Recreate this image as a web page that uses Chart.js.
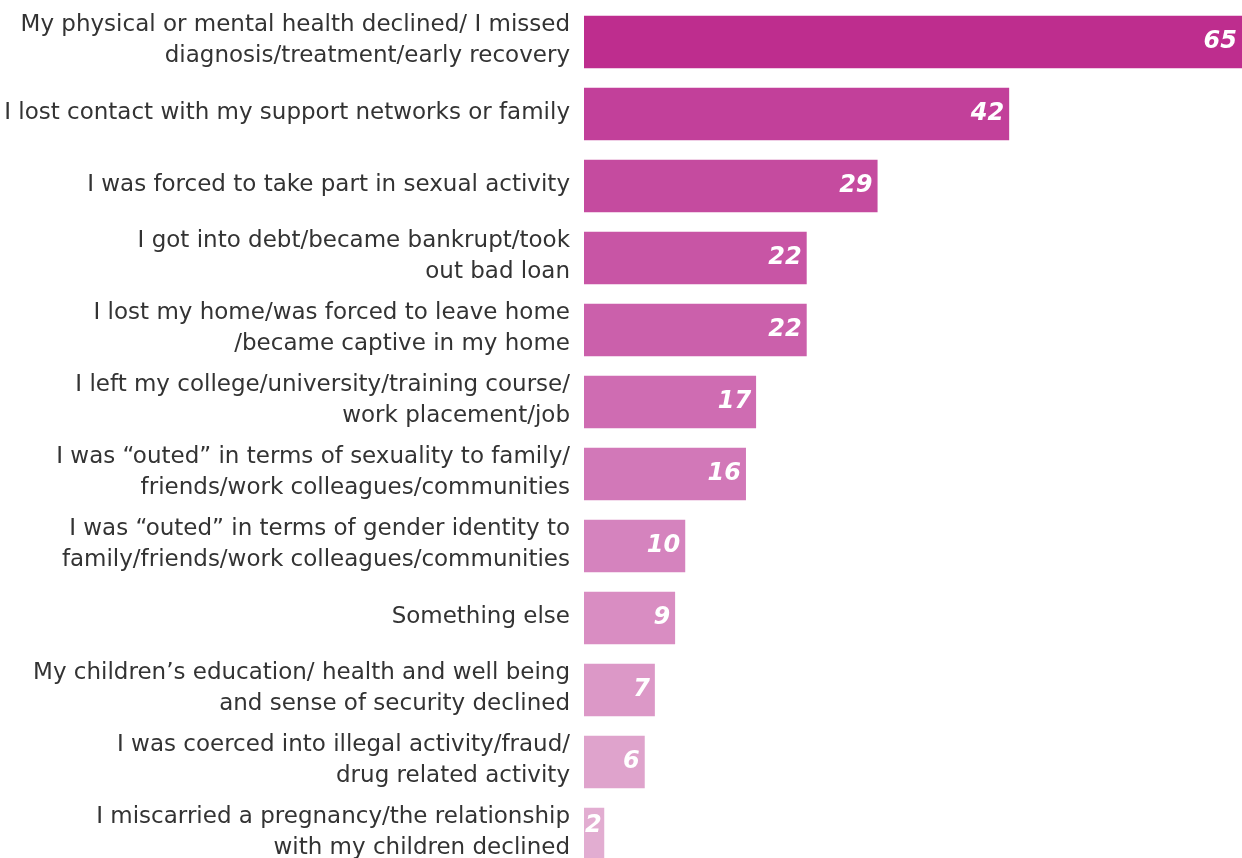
<!DOCTYPE html>
<html>
<head>
<meta charset="utf-8">
<script src="https://cdn.jsdelivr.net/npm/chart.js@4/dist/chart.umd.min.js"></script>
<style>
  html, body { margin: 0; padding: 0; background: #fff; overflow: hidden; }
  #wrap { position: relative; width: 1242px; height: 870px; }
</style>
</head>
<body>
<div id="wrap"><canvas id="chart"></canvas></div>
<script>
// Impact categories (multi-line labels) and percentages
const categories = [
    ['My physical or mental health declined/ I missed', 'diagnosis/treatment/early recovery'],
    ['I lost contact with my support networks or family'],
    ['I was forced to take part in sexual activity'],
    ['I got into debt/became bankrupt/took', 'out bad loan'],
    ['I lost my home/was forced to leave home', '/became captive in my home'],
    ['I left my college/university/training course/', 'work placement/job'],
    ['I was \u201couted\u201d in terms of sexuality to family/', 'friends/work colleagues/communities'],
    ['I was \u201couted\u201d in terms of gender identity to', 'family/friends/work colleagues/communities'],
    ['Something else'],
    ['My children\u2019s education/ health and well being', 'and sense of security declined'],
    ['I was coerced into illegal activity/fraud/', 'drug related activity'],
    ['I miscarried a pregnancy/the relationship', 'with my children declined']
];
const values = [65, 42, 29, 22, 22, 17, 16, 10, 9, 7, 6, 2];

const barColors = [
    '#BE2D8E', '#C2409A', '#C54B9F', '#C855A5', '#CB60AB', '#CF6CB2',
    '#D278B8', '#D583BE', '#D98DC2', '#DC98C7', '#DFA3CC', '#E2ADD1'
];

const valueLabels = {
    id: 'valueLabels',
    afterDatasetsDraw(chart) {
        const ctx = chart.ctx;
        const meta = chart.getDatasetMeta(0);
        ctx.save();
        ctx.fillStyle = '#ffffff';
        ctx.font = 'italic bold 24px "DejaVu Sans", sans-serif';
        ctx.textBaseline = 'middle';
        meta.data.forEach((bar, i) => {
            const v = values[i];
            const w = bar.x - bar.base;
            if (w < 30) {
                ctx.textAlign = 'left';
                ctx.fillText(String(v), bar.base + 1, bar.y - 8);
            } else {
                ctx.textAlign = 'right';
                ctx.fillText(String(v), bar.x - 5, bar.y);
            }
        });
        ctx.restore();
    }
};

new Chart(document.getElementById('chart').getContext('2d'), {
    type: 'bar',
    data: {
        labels: categories,
        datasets: [{
            data: values,
            backgroundColor: barColors,
            borderWidth: 0,
            categoryPercentage: 1,
            barPercentage: 0.73
        }]
    },
    options: {
        indexAxis: 'y',
        responsive: true,
        maintainAspectRatio: false,
        animation: false,
        layout: { padding: { top: 6, right: 0, bottom: 0, left: 0 } },
        plugins: {
            legend: { display: false },
            tooltip: { enabled: false }
        },
        scales: {
            x: {
                display: false,
                min: 0,
                max: 65
            },
            y: {
                grid: { display: false, drawTicks: false, tickLength: 0 },
                border: { display: false },
                afterFit: (scale) => {
                    scale.width = 584;
                    scale.paddingTop = 0;
                    scale.paddingBottom = 0;
                },
                ticks: {
                    color: '#333333',
                    padding: 14,
                    labelOffset: -1,
                    font: { family: '"DejaVu Sans", sans-serif', size: 23, lineHeight: 1.35 }
                }
            }
        }
    },
    plugins: [valueLabels]
});
</script>
</body>
</html>
